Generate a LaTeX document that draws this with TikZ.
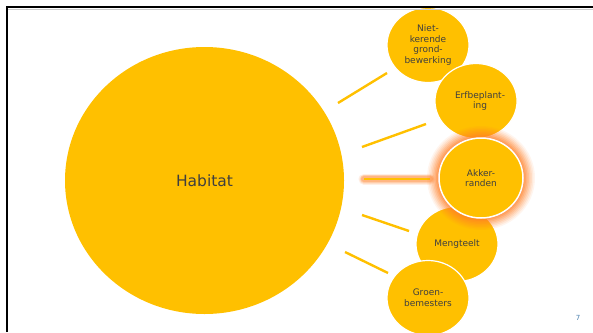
\documentclass[tikz,border=0pt]{standalone}
\usepackage{fontspec}
\setmainfont{DejaVu Sans}
\usetikzlibrary{shapes.geometric}
\definecolor{gold}{HTML}{FFC000}
\definecolor{txt}{HTML}{3F3F3F}
\definecolor{glow}{HTML}{FF7F27}
\definecolor{pgnum}{HTML}{4A7FAD}
\begin{document}
\begin{tikzpicture}[x=1pt,y=-1pt,
  bigc/.style={ellipse,fill=gold,inner sep=0pt,minimum width=279pt,minimum height=267pt,text=txt,font=\fontsize{15.5}{18}\selectfont},
  smallc/.style={ellipse,fill=gold,draw=white,line width=1.2pt,inner sep=0pt,minimum width=82pt,minimum height=75pt,text=txt,align=center,font=\fontsize{9}{10.7}\selectfont},
  conn/.style={draw=gold,line width=2.4pt},
  frameline/.style={draw=black,line width=2.2pt}]
\useasboundingbox (0,0) rectangle (593,332);
\begin{scope}
\clip (0,0) rectangle (593,332);
\node[bigc] (hab) at (204.5,180.5) {Habitat};
% connectors
\coordinate (l1a) at (338,103); \coordinate (l1b) at (387,73);
\coordinate (l2a) at (362,147); \coordinate (l2b) at (426,124);
\coordinate (l3a) at (364,179); \coordinate (l3b) at (430,179);
\coordinate (l4a) at (362,215); \coordinate (l4b) at (409,231);
\coordinate (l5a) at (345,252); \coordinate (l5b) at (388,273);
\draw[conn] (l1a) -- (l1b);
\draw[conn] (l2a) -- (l2b);
\draw[conn] (l4a) -- (l4b);
\draw[conn] (l5a) -- (l5b);
% glowing connector
\foreach \w/\o in {11/0.12,9/0.15,7.5/0.2,6/0.3}{
  \draw[glow,line width=\w pt,opacity=\o,line cap=round] (l3a) -- (l3b);}
\draw[conn] (l3a) -- (l3b);
% small circles
\node[smallc] (niet) at (428,45) {Niet-\\kerende\\grond-\\bewerking};
\node[smallc] (erf) at (476,101) {\hspace*{8pt}Erfbeplant-\\\hspace*{8pt}ing};
\node[smallc] (meng) at (457,244) {Mengteelt};
\node[smallc] (groen) at (428,298) {Groen-\\bemesters};
% glow round Akkerranden
\foreach \r/\o in {12/0.08,10.5/0.1,9/0.12,7.5/0.15,6/0.18,4.5/0.22,3/0.28,1.5/0.3}{
  \fill[glow,opacity=\o] (481,178) ellipse[x radius=42+\r,y radius=40+\r];}
\node[smallc,minimum width=84pt,minimum height=80pt,line width=1.5pt] (akk) at (481,178) {Akker-\\randen};
\end{scope}
% frame
\draw[gray!40,line width=0.8pt] (6,9.5) -- (593,9.5);
\draw[frameline] (7,332) -- (7,7) -- (593,7);
\node[text=pgnum,font=\fontsize{7}{8}\selectfont] (pg) at (578,318) {7};
\end{tikzpicture}
\end{document}
